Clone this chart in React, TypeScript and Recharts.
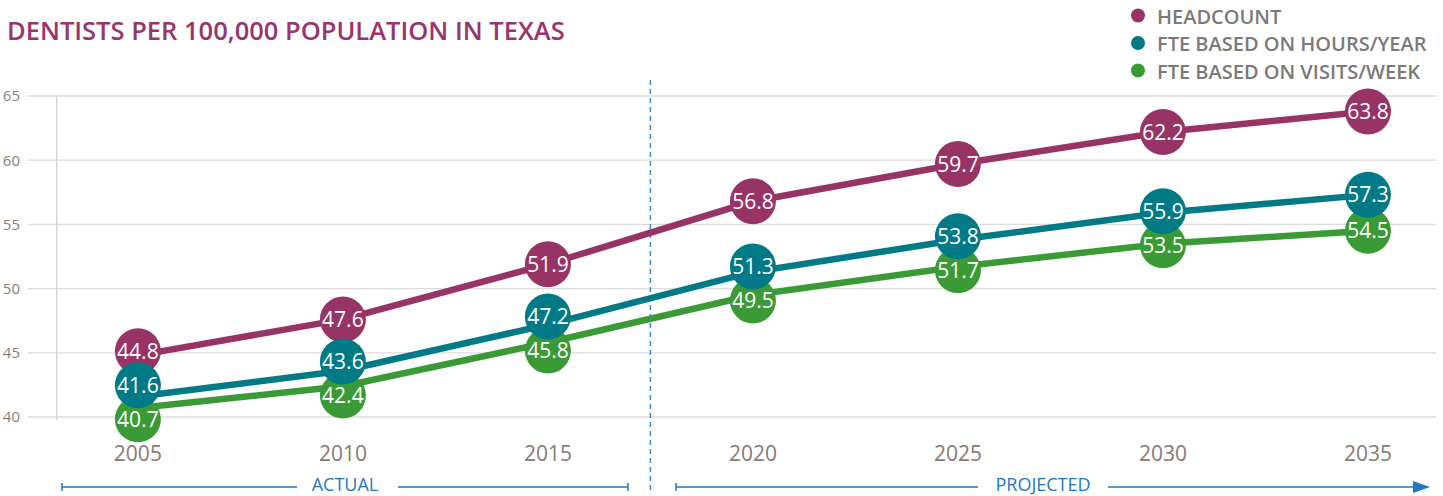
import { LineChart, Line, XAxis, YAxis, CartesianGrid, ReferenceLine } from "recharts";

const YEARS = [2005, 2010, 2015, 2020, 2025, 2030, 2035];
const HEADCOUNT = [44.8, 47.6, 51.9, 56.8, 59.7, 62.2, 63.8];
const FTE_HOURS = [41.6, 43.6, 47.2, 51.3, 53.8, 55.9, 57.3];
const FTE_VISITS = [40.7, 42.4, 45.8, 49.5, 51.7, 53.5, 54.5];
const Y_TICKS = [40, 45, 50, 55, 60, 65];

const PINK = "#983465";
const TEAL = "#007a86";
const GREEN = "#3a9b36";
const BLUE = "#1f78c4";
const FONT = "'Open Sans', sans-serif";

const W = 1443;
const H = 496;
const PLOT_TOP = 96;
const PLOT_BOTTOM = 417;
const PPU = (PLOT_BOTTOM - PLOT_TOP) / (65 - 40);
const MIN_GAP = 34;
const R = 23;

type Row = { year: number; headcount: number; hours: number; visits: number };

const data: Row[] = YEARS.map((year, i) => ({
  year,
  headcount: HEADCOUNT[i],
  hours: FTE_HOURS[i],
  visits: FTE_VISITS[i],
}));

// push bubbles apart when the values sit too close together
function bubbleShift(row: Row): Record<string, number> {
  const yH = (65 - row.headcount) * PPU;
  const yT = (65 - row.hours) * PPU;
  const yG = (65 - row.visits) * PPU;
  let dH = 0, dT = 0, dG = 0;
  const gap = yG - yT;
  if (gap < MIN_GAP) {
    const d = (MIN_GAP - gap) / 2;
    dT = -d;
    dG = d;
  }
  const gap2 = yT + dT - yH;
  if (gap2 < MIN_GAP) dH = -(MIN_GAP - gap2);
  return { headcount: dH, hours: dT, visits: dG };
}

function Bubble(props: any) {
  const { cx, cy, payload, value, color, dataKey } = props;
  if (cx == null || cy == null) return null;
  const y = cy + bubbleShift(payload)[dataKey];
  return (
    <g>
      <circle cx={cx} cy={y} r={R} fill={color} />
      <text x={cx} y={y} dy="0.36em" textAnchor="middle" fill="#fff" fontSize={21} fontFamily={FONT}>
        {Number(value).toFixed(1)}
      </text>
    </g>
  );
}

const SERIES = [
  { key: "visits", color: GREEN },
  { key: "headcount", color: PINK },
  { key: "hours", color: TEAL },
];

const LEGEND = [
  { label: "HEADCOUNT", color: PINK },
  { label: "FTE BASED ON HOURS/YEAR", color: TEAL },
  { label: "FTE BASED ON VISITS/WEEK", color: GREEN },
];

export default function App() {
  return (
    <div style={{ position: "absolute", left: 0, top: 0, width: W, height: H, background: "#fff", fontFamily: FONT }}>
      <LineChart width={W} height={H} data={data} margin={{ top: PLOT_TOP, right: 7, bottom: 39, left: 0 }}>
        <CartesianGrid vertical={false} stroke="#dcdcdc" strokeWidth={1.3} />
        <XAxis
          dataKey="year"
          type="number"
          domain={[2002.32, 2036.66]}
          ticks={YEARS}
          axisLine={false}
          tickLine={false}
          tickMargin={23}
          height={40}
          tick={{ fill: "#857b74", fontSize: 21, fontFamily: FONT }}
        />
        <YAxis
          domain={[40, 65]}
          ticks={Y_TICKS}
          axisLine={false}
          tickLine={false}
          width={28}
          tick={{ fill: "#8a817a", fontSize: 15, fontFamily: FONT }}
        />
        <ReferenceLine
          segment={[{ x: 2003.02, y: 65 }, { x: 2003.02, y: 39.75 }]}
          stroke="#d6d6d6"
          strokeWidth={1.5}
          ifOverflow="visible"
        />
        <ReferenceLine
          segment={[{ x: 2017.5, y: 66.25 }, { x: 2017.5, y: 34.3 }]}
          stroke="#3d8ac9"
          strokeWidth={1.5}
          strokeDasharray="5 4"
          ifOverflow="visible"
        />
        {SERIES.map((s) => (
          <Line
            key={`line-${s.key}`}
            dataKey={s.key}
            stroke={s.color}
            strokeWidth={6.5}
            dot={false}
            activeDot={false}
            isAnimationActive={false}
          />
        ))}
        {SERIES.map((s) => (
          <Line
            key={`dots-${s.key}`}
            dataKey={s.key}
            stroke="none"
            activeDot={false}
            isAnimationActive={false}
            dot={(p: any) => {
              const { key, ...rest } = p;
              return <Bubble key={`${s.key}-${p.index}`} {...rest} color={s.color} dataKey={s.key} />;
            }}
          />
        ))}
      </LineChart>

      <svg width={W} height={H} style={{ position: "absolute", left: 0, top: 0, pointerEvents: "none" }}>
        <text x={7} y={40} fill="#9b3468" fontSize={25.5} fontWeight={600} fontFamily={FONT}>
          DENTISTS PER 100,000 POPULATION IN TEXAS
        </text>
        {LEGEND.map((l, i) => (
          <g key={l.label}>
            <circle cx={1138} cy={15.5 + i * 27.5} r={7} fill={l.color} />
            <text x={1157} y={23.5 + i * 27.5} fill="#7a7a7a" fontSize={20} fontWeight={600} fontFamily={FONT}>
              {l.label}
            </text>
          </g>
        ))}
        <g stroke={BLUE} strokeWidth={1.5}>
          <line x1={62} y1={487} x2={297} y2={487} />
          <line x1={398} y1={487} x2={628} y2={487} />
          <line x1={62} y1={483} x2={62} y2={491} />
          <line x1={628} y1={483} x2={628} y2={491} />
          <line x1={676} y1={487} x2={978} y2={487} />
          <line x1={1108} y1={487} x2={1415} y2={487} />
          <line x1={676} y1={483} x2={676} y2={491} />
        </g>
        <polygon points="1413,481 1430,487 1413,493" fill={BLUE} />
        <text x={345} y={490.5} textAnchor="middle" fill={BLUE} fontSize={18} fontFamily={FONT}>
          ACTUAL
        </text>
        <text x={1043} y={490.5} textAnchor="middle" fill={BLUE} fontSize={18} fontFamily={FONT}>
          PROJECTED
        </text>
      </svg>
    </div>
  );
}
